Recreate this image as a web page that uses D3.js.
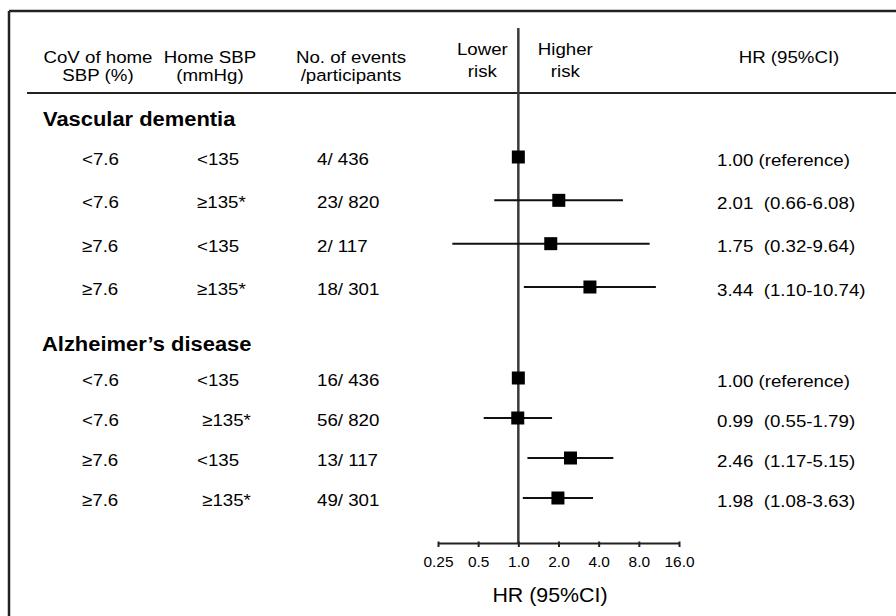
<!DOCTYPE html>
<html>
<head>
<meta charset="utf-8">
<script src="https://cdn.jsdelivr.net/npm/d3@7"></script>
<style>
  html, body { margin: 0; padding: 0; background: #fff; }
  svg { display: block; }
  text { font-family: "Liberation Sans", Arial, sans-serif; fill: #000; white-space: pre; }
</style>
</head>
<body>
<svg id="chart" width="896" height="616"></svg>
<script>
// ---------------- data ----------------
const groupNames = ["Vascular dementia", "Alzheimer\u2019s disease"];
const rowGroup = [0, 0, 0, 0, 1, 1, 1, 1];
const rowIndex = [0, 1, 2, 3, 0, 1, 2, 3];
const covLabels = ["<7.6", "<7.6", "\u22657.6", "\u22657.6", "<7.6", "<7.6", "\u22657.6", "\u22657.6"];
const sbpLabels = ["<135", "\u2265135*", "<135", "\u2265135*", "<135", " \u2265135*", "<135", " \u2265135*"];
const events = [4, 23, 2, 18, 16, 56, 13, 49];
const participants = [436, 820, 117, 301, 436, 820, 117, 301];
const hr = [1.00, 2.01, 1.75, 3.44, 1.00, 0.99, 2.46, 1.98];
const ciLow = [null, 0.66, 0.32, 1.10, null, 0.55, 1.17, 1.08];
const ciHigh = [null, 6.08, 9.64, 10.74, null, 1.79, 5.15, 3.63];
const tickValues = [0.25, 0.5, 1, 2, 4, 8, 16];
const tickLabels = ["0.25", "0.5", "1.0", "2.0", "4.0", "8.0", "16.0"];

// ---------------- layout ----------------
const svg = d3.select("#chart");
const SX = 1.08; // horizontal stretch of the original typography

function T(x, y, s, opts = {}) {
  return svg.append("text")
    .attr("transform", `translate(${x},${y}) scale(${SX},1)`)
    .attr("font-size", opts.size || 17.3)
    .attr("font-weight", opts.weight || 400)
    .attr("text-anchor", opts.anchor || "start")
    .text(s);
}

const x = d3.scaleLog().base(2).domain([0.25, 16]).range([438, 679]);
const yScales = [
  d3.scaleLinear().domain([0, 3]).range([157, 287]),
  d3.scaleLinear().domain([0, 3]).range([378, 498])
];
const rowY = i => yScales[rowGroup[i]](rowIndex[i]);
const axisY = 543;

// frame (top and left borders)
svg.append("line").attr("x1", 9).attr("x2", 896).attr("y1", 11).attr("y2", 11)
  .attr("stroke", "#222").attr("stroke-width", 2.5);
svg.append("line").attr("x1", 9).attr("x2", 9).attr("y1", 11).attr("y2", 616)
  .attr("stroke", "#222").attr("stroke-width", 2.5);

// header line
svg.append("line").attr("x1", 27).attr("x2", 896).attr("y1", 93).attr("y2", 93)
  .attr("stroke", "#222").attr("stroke-width", 2);

// column headers
T(98, 62.5, "CoV of home", { anchor: "middle" });
T(98, 81, "SBP (%)", { anchor: "middle" });
T(210, 62.5, "Home SBP", { anchor: "middle" });
T(210, 81, "(mmHg)", { anchor: "middle" });
T(351, 62.5, "No. of events", { anchor: "middle" });
T(351, 81, "/participants", { anchor: "middle" });
T(x(1) - 36, 55, "Lower", { anchor: "middle" });
T(x(1) - 36, 76.5, "risk", { anchor: "middle" });
T(x(1) + 47, 55, "Higher", { anchor: "middle" });
T(x(1) + 47, 76.5, "risk", { anchor: "middle" });
T(789, 62.5, "HR (95%CI)", { anchor: "middle" });

// group headers
T(43, 126, groupNames[0], { size: 20.3, weight: 700 });
T(42, 350.5, groupNames[1], { size: 20.3, weight: 700 });

// zero (reference) line
svg.append("line").attr("x1", x(1)).attr("x2", x(1)).attr("y1", 28).attr("y2", axisY)
  .attr("stroke", "#3a3a3a").attr("stroke-width", 2.5);

// rows
hr.forEach((h, i) => {
  const y = rowY(i);
  T(82, y + 8, covLabels[i]);
  T(197, y + 8, sbpLabels[i]);
  T(317, y + 8, events[i] + "/ " + participants[i]);
  const label = ciLow[i] == null
    ? h.toFixed(2) + " (reference)"
    : h.toFixed(2) + "  (" + ciLow[i].toFixed(2) + "-" + ciHigh[i].toFixed(2) + ")";
  T(717, y + 8.5, label);
  if (ciLow[i] != null) {
    svg.append("line").attr("x1", x(ciLow[i])).attr("x2", x(ciHigh[i]))
      .attr("y1", y).attr("y2", y).attr("stroke", "#111").attr("stroke-width", 2);
  }
  svg.append("rect").attr("x", x(h) - 6.5).attr("y", y - 6.5)
    .attr("width", 13).attr("height", 13).attr("fill", "#000");
});

// axis
const axis = d3.axisBottom(x)
  .tickValues(tickValues)
  .tickFormat((d, i) => tickLabels[i])
  .tickSize(4)
  .tickSizeOuter(0)
  .tickPadding(9.5);
const ag = svg.append("g").attr("transform", `translate(0,${axisY})`).call(axis);
ag.select(".domain").attr("stroke", "#222").attr("stroke-width", 2);
ag.selectAll(".tick line").attr("stroke", "#222").attr("stroke-width", 2).attr("y1", -1.5);
ag.selectAll(".tick text")
  .attr("font-size", 14.3)
  .attr("fill", "#000")
  .attr("transform", `scale(${SX},1)`)
  .style("font-family", "\"Liberation Sans\", Arial, sans-serif");

T(550, 601.5, "HR (95%CI)", { size: 19.8, anchor: "middle" });
</script>
</body>
</html>
